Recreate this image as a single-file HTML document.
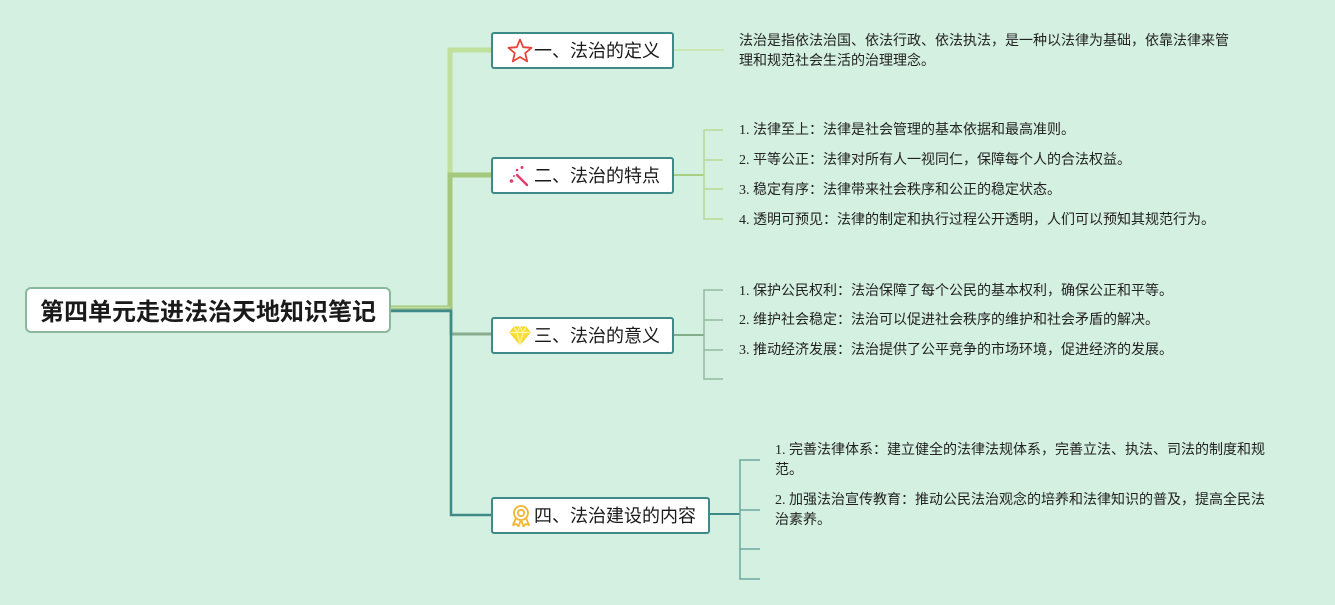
<!DOCTYPE html>
<html>
<head>
<meta charset="utf-8">
<style>
  html,body{margin:0;padding:0;}
  body{width:1335px;height:605px;background:#d4f0e1;position:relative;overflow:hidden;
       font-family:"Liberation Sans","Noto Sans CJK SC",sans-serif;}
  .root{position:absolute;left:25px;top:287px;width:362px;height:42px;background:#fff;
        border:2px solid #8ab89c;border-radius:6px;box-sizing:content-box;
        font-weight:bold;font-size:24px;color:#1a1a1a;line-height:42px;text-align:center;
        font-family:"Noto Sans CJK SC",sans-serif;}
  .box{position:absolute;background:#fff;border:2px solid #3d8a87;border-radius:3px;
       box-sizing:border-box;height:37px;font-size:18px;color:#1a1a1a;line-height:33px;
       font-family:"Noto Sans CJK SC",sans-serif;}
  .box span{position:absolute;left:41px;top:0;white-space:nowrap;}
  .leaf{position:absolute;font-size:14px;color:#222;white-space:nowrap;
        font-family:"Liberation Serif","Noto Sans CJK SC",serif;line-height:20px;}
</style>
</head>
<body>
<svg width="1335" height="605" style="position:absolute;left:0;top:0" xmlns="http://www.w3.org/2000/svg">
  <!-- branch 1 -->
  <polyline points="390,308 450,308 450,50 491,50" fill="none" stroke="#c0e19b" stroke-width="5"/>
  <!-- branch 2 -->
  <polyline points="390,308 450,308 450,175 491,175" fill="none" stroke="#a4c87c" stroke-width="5"/>
  <line x1="390" y1="308" x2="450" y2="308" stroke="#c0e19b" stroke-width="2.5"/>
  <!-- branch 3 -->
  <polyline points="390,310 451,310 451,334 491,334" fill="none" stroke="#88ad8e" stroke-width="3"/>
  <!-- branch 4 -->
  <polyline points="390,311 451,311 451,515 491,515" fill="none" stroke="#3d8a87" stroke-width="2.5"/>

  <!-- branch 1 child -->
  <line x1="674" y1="50" x2="724" y2="50" stroke="#c4e4a6" stroke-width="1.5"/>
  <!-- branch 2 children -->
  <line x1="674" y1="175" x2="704" y2="175" stroke="#a8cf82" stroke-width="2"/>
  <polyline points="723,130 704,130 704,219 723,219" fill="none" stroke="#b6da94" stroke-width="1.5"/>
  <line x1="704" y1="160" x2="723" y2="160" stroke="#b6da94" stroke-width="1.5"/>
  <line x1="704" y1="189" x2="723" y2="189" stroke="#b6da94" stroke-width="1.5"/>
  <!-- branch 3 children -->
  <line x1="674" y1="335" x2="704" y2="335" stroke="#84ad8c" stroke-width="2"/>
  <polyline points="723,290 704,290 704,379 723,379" fill="none" stroke="#93b9a0" stroke-width="1.5"/>
  <line x1="704" y1="320" x2="723" y2="320" stroke="#93b9a0" stroke-width="1.5"/>
  <line x1="704" y1="350" x2="723" y2="350" stroke="#93b9a0" stroke-width="1.5"/>
  <!-- branch 4 children -->
  <line x1="710" y1="514" x2="740" y2="514" stroke="#3d8a87" stroke-width="2"/>
  <polyline points="760,460 740,460 740,579 760,579" fill="none" stroke="#6aa8a2" stroke-width="1.5"/>
  <line x1="740" y1="510" x2="760" y2="510" stroke="#6aa8a2" stroke-width="1.5"/>
  <line x1="740" y1="549" x2="760" y2="549" stroke="#6aa8a2" stroke-width="1.5"/>
</svg>

<div class="root">第四单元走进法治天地知识笔记</div>

<div class="box" style="left:491px;top:32px;width:183px;">
  <svg width="26" height="26" style="position:absolute;left:14px;top:4px" viewBox="0 0 26 26">
    <polygon points="13,1.5 16.2,9.2 24.5,9.8 18.2,15.2 20.2,23.4 13,19 5.8,23.4 7.8,15.2 1.5,9.8 9.8,9.2" fill="none" stroke="#e5463b" stroke-width="1.8" stroke-linejoin="round"/>
  </svg>
  <span>一、法治的定义</span>
</div>

<div class="box" style="left:491px;top:157px;width:183px;">
  <svg width="24" height="24" style="position:absolute;left:14px;top:6px" viewBox="0 0 24 24">
    <line x1="10" y1="10" x2="20" y2="20" stroke="#e63a6c" stroke-width="2.4" stroke-linecap="round"/>
    <circle cx="4.5" cy="16" r="1.8" fill="#e63a6c"/>
    <circle cx="10" cy="5" r="1.3" fill="#e63a6c"/>
    <circle cx="15" cy="2.5" r="1.5" fill="#e63a6c"/>
    <circle cx="7" cy="11" r="1" fill="#e63a6c"/>
  </svg>
  <span>二、法治的特点</span>
</div>

<div class="box" style="left:491px;top:317px;width:183px;">
  <svg width="22" height="20" style="position:absolute;left:16px;top:7px" viewBox="0 0 22 20">
    <polygon points="5,1 17,1 21,6.5 11,18.5 1,6.5" fill="#f6df3a" stroke="#f0d020" stroke-width="1"/>
    <polyline points="1,6.5 21,6.5" stroke="#fff6b0" stroke-width="1" fill="none"/>
    <polyline points="5,1 8,6.5 11,18.5 14,6.5 17,1" stroke="#fff6b0" stroke-width="1" fill="none"/>
    <polyline points="8,6.5 11,1 14,6.5" stroke="#fff6b0" stroke-width="1" fill="none"/>
  </svg>
  <span>三、法治的意义</span>
</div>

<div class="box" style="left:491px;top:497px;width:219px;">
  <svg width="20" height="22" style="position:absolute;left:18px;top:6px" viewBox="0 0 20 22">
    <path d="M5,13 L2,20 L5.5,19 L7.5,21.5 L9.5,16" fill="none" stroke="#f2b431" stroke-width="1.8" stroke-linejoin="round"/>
    <path d="M15,13 L18,20 L14.5,19 L12.5,21.5 L10.5,16" fill="none" stroke="#f2b431" stroke-width="1.8" stroke-linejoin="round"/>
    <circle cx="10" cy="8" r="7" fill="#fff" stroke="#f2b431" stroke-width="1.8"/>
    <circle cx="10" cy="8" r="3.2" fill="none" stroke="#f2b431" stroke-width="1.8"/>
  </svg>
  <span>四、法治建设的内容</span>
</div>

<div class="leaf" style="left:739px;top:32px;line-height:20px;">法治是指依法治国、依法行政、依法执法，是一种以法律为基础，依靠法律来管<br>理和规范社会生活的治理理念。</div>

<div class="leaf" style="left:739px;top:121px;">1. 法律至上：法律是社会管理的基本依据和最高准则。</div>
<div class="leaf" style="left:739px;top:151px;">2. 平等公正：法律对所有人一视同仁，保障每个人的合法权益。</div>
<div class="leaf" style="left:739px;top:181px;">3. 稳定有序：法律带来社会秩序和公正的稳定状态。</div>
<div class="leaf" style="left:739px;top:211px;">4. 透明可预见：法律的制定和执行过程公开透明，人们可以预知其规范行为。</div>

<div class="leaf" style="left:739px;top:282px;">1. 保护公民权利：法治保障了每个公民的基本权利，确保公正和平等。</div>
<div class="leaf" style="left:739px;top:311px;">2. 维护社会稳定：法治可以促进社会秩序的维护和社会矛盾的解决。</div>
<div class="leaf" style="left:739px;top:341px;">3. 推动经济发展：法治提供了公平竞争的市场环境，促进经济的发展。</div>

<div class="leaf" style="left:775px;top:441px;">1. 完善法律体系：建立健全的法律法规体系，完善立法、执法、司法的制度和规<br>范。</div>
<div class="leaf" style="left:775px;top:491px;">2. 加强法治宣传教育：推动公民法治观念的培养和法律知识的普及，提高全民法<br>治素养。</div>
</body>
</html>
